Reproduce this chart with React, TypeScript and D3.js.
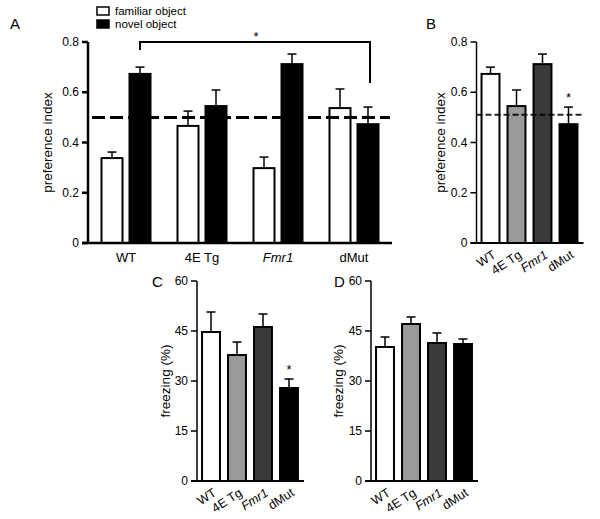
import React from "react";
import * as d3 from "d3";

const groups = ["WT", "4E Tg", "Fmr1", "dMut"];
const italicGroups = ["Fmr1"];
const seriesA = ["familiar object", "novel object"];
const familiarMean = [0.338, 0.466, 0.298, 0.537];
const familiarSem = [0.024, 0.059, 0.044, 0.076];
const novelMean = [0.673, 0.545, 0.712, 0.473];
const novelSem = [0.027, 0.064, 0.04, 0.068];
const freezeCMean = [44.7, 37.8, 46.2, 27.9];
const freezeCSem = [6.0, 3.9, 3.9, 2.7];
const freezeDMean = [40.2, 47.1, 41.4, 41.1];
const freezeDSem = [3.0, 2.1, 3.0, 1.5];
const prefTicks = [0, 0.2, 0.4, 0.6, 0.8];
const freezeTicks = [0, 15, 30, 45, 60];
const chanceLevel = 0.5;
const groupFills = ["#ffffff", "#9a9a9a", "#3a3a3a", "#000000"];
const seriesFills = ["#ffffff", "#000000"];

const FONT = "Liberation Sans, Arial, sans-serif";

function YAxis({ x, y, ticks, fmt, label, labelX, sw = 2 }: any) {
  const [r0, r1] = y.range();
  return (
    <g>
      <line x1={x} x2={x} y1={r0} y2={r1} stroke="#000" strokeWidth={sw} />
      {ticks.map((t: number) => (
        <g key={t}>
          <line x1={x - 6} x2={x} y1={y(t)} y2={y(t)} stroke="#000" strokeWidth={sw} />
          <text x={x - 9} y={y(t)} dy="0.35em" textAnchor="end" fontSize={12} fontFamily={FONT}>
            {fmt(t)}
          </text>
        </g>
      ))}
      <text
        transform={`translate(${labelX},${(r0 + r1) / 2}) rotate(-90)`}
        textAnchor="middle"
        dy="0.35em"
        fontSize={13.5}
        fontFamily={FONT}
      >
        {label}
      </text>
    </g>
  );
}

function Bar({ x, w, y0, yv, ye, fill }: any) {
  return (
    <g>
      <line x1={x + w / 2} x2={x + w / 2} y1={yv} y2={ye} stroke="#000" strokeWidth={1.5} />
      <line x1={x + w / 2 - 4.5} x2={x + w / 2 + 4.5} y1={ye} y2={ye} stroke="#000" strokeWidth={1.5} />
      <rect x={x} y={yv} width={w} height={y0 - yv} fill={fill} stroke="#000" strokeWidth={2} />
    </g>
  );
}

function SmallPanel({ range, y, means, sems, ticks, fmt, label, labelX, letter, letterX, letterY, star, dashed }: any) {
  const x = d3.scaleBand().domain(groups).range(range).paddingInner(0.31).paddingOuter(0.155);
  const y0 = y(0);
  const axX = range[0] - 1;
  return (
    <g>
      <text x={letterX} y={letterY} fontSize={15} fontFamily={FONT}>{letter}</text>
      {groups.map((g, i) => (
        <Bar key={g} x={x(g)} w={x.bandwidth()} y0={y0} yv={y(means[i])} ye={y(means[i] + sems[i])} fill={groupFills[i]} />
      ))}
      {dashed !== undefined && (
        <line x1={axX} x2={range[1] + 2} y1={y(dashed)} y2={y(dashed)} stroke="#000" strokeWidth={2} strokeDasharray="6 3" opacity={0.85} />
      )}
      <line x1={axX - 6} x2={range[1] + 2} y1={y0} y2={y0} stroke="#000" strokeWidth={2} />
      <YAxis x={axX} y={y} ticks={ticks} fmt={fmt} label={label} labelX={labelX} sw={1.5} />
      {groups.map((g, i) => (
        <text
          key={g}
          transform={`translate(${(x(g) as number) + x.bandwidth() / 2 + 1},${y0 + 6}) rotate(-33)`}
          textAnchor="end"
          dy="0.75em"
          fontSize={12.5}
          fontFamily={FONT}
          fontStyle={italicGroups.includes(g) ? "italic" : "normal"}
        >
          {g}
        </text>
      ))}
      {star !== undefined && (
        <text
          x={(x(groups[star]) as number) + x.bandwidth() / 2}
          y={y(means[star] + sems[star]) - 5}
          textAnchor="middle"
          fontSize={13}
          fontFamily={FONT}
        >
          *
        </text>
      )}
    </g>
  );
}

export default function App() {
  const yPref = d3.scaleLinear().domain([0, 0.8]).range([243, 42]);
  const yFreeze = d3.scaleLinear().domain([0, 60]).range([481, 281]);
  const fmtPref = (t: number) => (t === 0 ? "0" : d3.format(".1f")(t));
  const fmtFreeze = (t: number) => String(t);

  const xA = d3.scaleBand().domain(groups).range([88, 392]).padding(0);
  const sub = (c: number) => d3.scaleBand().domain(seriesA).range([c - 24.5, c + 24.5]).paddingInner(0.25).paddingOuter(0);
  const centerA = (g: string) => (xA(g) as number) + xA.bandwidth() / 2;
  const y0A = yPref(0);
  const bracketL = sub(centerA("WT"));
  const bracketR = sub(centerA("dMut"));
  const bLx = (bracketL("novel object") as number) + bracketL.bandwidth() / 2;
  const bRx = (bracketR("novel object") as number) + bracketR.bandwidth() / 2 + 2;
  const bTop = yPref(0.8);

  return (
    <svg width={600} height={519} style={{ position: "absolute", left: 0, top: 0, background: "#fff" }}>
      {/* Panel A */}
      <text x={10} y={29} fontSize={15} fontFamily={FONT}>A</text>
      {seriesA.map((s, i) => (
        <g key={s}>
          <rect x={97} y={7 + i * 13} width={12} height={8} fill={seriesFills[i]} stroke="#000" strokeWidth={1.5} />
          <text x={115} y={15 + i * 13} fontSize={11.5} fontFamily={FONT}>{s}</text>
        </g>
      ))}
      {groups.map((g, i) => {
        const s = sub(centerA(g));
        const vals = [
          [familiarMean[i], familiarSem[i]],
          [novelMean[i], novelSem[i]],
        ];
        return (
          <g key={g}>
            {seriesA.map((sn, j) => (
              <Bar
                key={sn}
                x={s(sn)}
                w={s.bandwidth()}
                y0={y0A}
                yv={yPref(vals[j][0])}
                ye={yPref(vals[j][0] + vals[j][1])}
                fill={seriesFills[j]}
              />
            ))}
            <text
              x={centerA(g)}
              y={y0A + 19}
              textAnchor="middle"
              fontSize={13}
              fontFamily={FONT}
              fontStyle={italicGroups.includes(g) ? "italic" : "normal"}
            >
              {g}
            </text>
          </g>
        );
      })}
      <line x1={92} x2={390} y1={yPref(chanceLevel)} y2={yPref(chanceLevel)} stroke="#000" strokeWidth={3} strokeDasharray="13 5" />
      <line x1={82} x2={392} y1={y0A} y2={y0A} stroke="#000" strokeWidth={2.5} />
      <YAxis x={88} y={yPref} ticks={prefTicks} fmt={fmtPref} label="preference index" labelX={47} sw={2.5} />
      <path d={`M${bLx},${bTop + 8}V${bTop}H${bRx}V${bTop + 41}`} fill="none" stroke="#000" strokeWidth={2} />
      <text x={(bLx + bRx) / 2 + 1} y={bTop - 1} textAnchor="middle" fontSize={13} fontFamily={FONT}>*</text>

      {/* Panel B */}
      <SmallPanel
        range={[477.5, 581.5]}
        y={yPref}
        means={novelMean}
        sems={novelSem}
        ticks={prefTicks}
        fmt={fmtPref}
        label="preference index"
        labelX={440}
        letter="B"
        letterX={426}
        letterY={29}
        star={3}
        dashed={0.51}
      />
      {/* Panel C */}
      <SmallPanel
        range={[198, 302]}
        y={yFreeze}
        means={freezeCMean}
        sems={freezeCSem}
        ticks={freezeTicks}
        fmt={fmtFreeze}
        label="freezing (%)"
        labelX={165}
        letter="C"
        letterX={152}
        letterY={287}
        star={3}
      />
      {/* Panel D */}
      <SmallPanel
        range={[372, 476]}
        y={yFreeze}
        means={freezeDMean}
        sems={freezeDSem}
        ticks={freezeTicks}
        fmt={fmtFreeze}
        label="freezing (%)"
        labelX={338}
        letter="D"
        letterX={334}
        letterY={287}
      />
    </svg>
  );
}
